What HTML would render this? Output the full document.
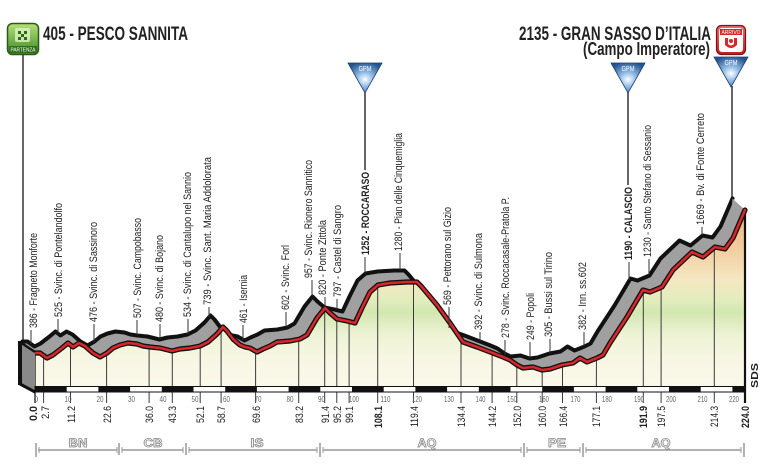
<!DOCTYPE html>
<html><head><meta charset="utf-8"><style>
html,body{margin:0;padding:0;background:#fff;}
svg{display:block;}
text{font-family:"Liberation Sans Narrow","Liberation Sans",sans-serif;}
</style></head><body>
<svg width="768" height="470" viewBox="0 0 768 470" xmlns="http://www.w3.org/2000/svg">
<defs>
<linearGradient id="fg" gradientUnits="userSpaceOnUse" x1="0" y1="205" x2="0" y2="387">
<stop offset="0" stop-color="#eab37c"/>
<stop offset="0.22" stop-color="#f1cb9c"/>
<stop offset="0.41" stop-color="#f5e7c2"/>
<stop offset="0.52" stop-color="#e2edbd"/>
<stop offset="0.59" stop-color="#d3e7b0"/>
<stop offset="0.72" stop-color="#eef3d6"/>
<stop offset="0.85" stop-color="#f8f6e3"/>
<stop offset="1" stop-color="#fbf8ea"/>
</linearGradient>
<radialGradient id="gpm" cx="0.5" cy="0.55" r="0.6">
<stop offset="0" stop-color="#ffffff"/>
<stop offset="0.35" stop-color="#9cc3ea"/>
<stop offset="1" stop-color="#22548f"/>
</radialGradient>
<linearGradient id="grn" x1="0" y1="0" x2="0" y2="1">
<stop offset="0" stop-color="#b5e07a"/>
<stop offset="1" stop-color="#3f8a22"/>
</linearGradient>
<linearGradient id="red" x1="0" y1="0" x2="0" y2="1">
<stop offset="0" stop-color="#f06a6a"/>
<stop offset="1" stop-color="#c41e1e"/>
</linearGradient>
</defs>

<!-- Titles -->
<text x="43" y="40" font-size="19" font-weight="bold" fill="#222" textLength="145" lengthAdjust="spacingAndGlyphs">405 - PESCO SANNITA</text>
<text x="519" y="40" font-size="19" font-weight="bold" fill="#222" textLength="192" lengthAdjust="spacingAndGlyphs">2135 - GRAN SASSO D’ITALIA</text>
<text x="583" y="55" font-size="18" font-weight="bold" fill="#222" textLength="127" lengthAdjust="spacingAndGlyphs">(Campo Imperatore)</text>

<!-- Partenza icon -->
<rect x="7.5" y="23.5" width="31" height="31" rx="5" fill="url(#grn)" stroke="#2d5a18" stroke-width="1.5"/>
<rect x="15" y="28" width="15" height="14" rx="2" fill="#dff3c4" opacity="0.8"/>
<rect x="18" y="31" width="3" height="3" fill="#2d6a18"/><rect x="24" y="31" width="3" height="3" fill="#2d6a18"/>
<rect x="21" y="34" width="3" height="3" fill="#2d6a18"/><rect x="18" y="37" width="3" height="3" fill="#2d6a18"/><rect x="24" y="37" width="3" height="3" fill="#2d6a18"/>
<rect x="9" y="46" width="28" height="7" fill="#2f6e1c"/>
<text x="23" y="51.5" font-size="5" fill="#fff" text-anchor="middle" textLength="25" lengthAdjust="spacingAndGlyphs">PARTENZA</text>

<!-- Arrivo icon -->
<rect x="716.5" y="25.5" width="29" height="29" rx="5" fill="url(#red)" stroke="#7a1515" stroke-width="1.2"/>
<rect x="719" y="28" width="24" height="24" rx="3" fill="#fff"/>
<rect x="720" y="29" width="22" height="6" fill="#d8262b"/>
<text x="731" y="34" font-size="5" fill="#fff" text-anchor="middle" textLength="19" lengthAdjust="spacingAndGlyphs">ARRIVO</text>
<path d="M725,38 L725,45 Q731,51 737,45 L737,38 L734,38 L734,44 Q731,47 728,44 L728,38 Z" fill="#d8262b"/>
<circle cx="731" cy="41" r="2" fill="#d8262b"/>

<!-- start line & GPM lines -->
<line x1="23" y1="55" x2="23" y2="342" stroke="#333" stroke-width="1.5"/>
<line x1="365" y1="92" x2="365" y2="170" stroke="#333" stroke-width="1.5"/>
<line x1="628" y1="92" x2="628" y2="185" stroke="#333" stroke-width="1.5"/>
<line x1="732" y1="86" x2="732" y2="198" stroke="#333" stroke-width="1.5"/>

<!-- GPM triangles -->
<g>
<path d="M348,63 L382,63 L365,93 Z" fill="url(#gpm)" stroke="#1a3f6e" stroke-width="0.8"/>
<text x="365" y="71" font-size="7" fill="#fff" text-anchor="middle" textLength="13" lengthAdjust="spacingAndGlyphs">GPM</text>
<path d="M611,63 L645,63 L628,93 Z" fill="url(#gpm)" stroke="#1a3f6e" stroke-width="0.8"/>
<text x="628" y="71" font-size="7" fill="#fff" text-anchor="middle" textLength="13" lengthAdjust="spacingAndGlyphs">GPM</text>
<path d="M714,57 L748,57 L731,87 Z" fill="url(#gpm)" stroke="#1a3f6e" stroke-width="0.8"/>
<text x="731" y="65" font-size="7" fill="#fff" text-anchor="middle" textLength="13" lengthAdjust="spacingAndGlyphs">GPM</text>
</g>

<!-- back band -->
<g transform="translate(-12.5,-11.5)">
<polygon fill="#a0a0a0" points="35,353 40,353 47,358 53,355 62,348 68,343 73,347 79,343 85,346 93,353 100,357 107,353 113,348 120,345 128,343 137,344 143,346 150,347 160,348 172,351 180,349 190,348 200,346 208,342 217,334 223,327 227,331 233,339 240,345 245,347 250,348 257,352 263,349 270,346 277,342 290,341 300,339 307,335 317,318 325,308 330,313 337,319 347,321 355,323 362,308 370,292 378,285 390,283 407,282 417,282 421,286 437,305 450,323 463,342 477,347 490,352 503,357 510,360 517,365 523,368 533,367 542,370 550,369 562,365 573,363 580,358 587,362 597,358 603,355 610,343 627,317 643,290 650,292 662,287 673,270 692,252 703,257 715,247 725,249 733,238 745,210 745,387 35,387"/>
<polyline fill="none" stroke="#111" stroke-width="4" stroke-linejoin="round" stroke-linecap="round" points="35,353 40,353 47,358 53,355 62,348 68,343 73,347 79,343 85,346 93,353 100,357 107,353 113,348 120,345 128,343 137,344 143,346 150,347 160,348 172,351 180,349 190,348 200,346 208,342 217,334 223,327 227,331 233,339 240,345 245,347 250,348 257,352 263,349 270,346 277,342 290,341 300,339 307,335 317,318 325,308 330,313 337,319 347,321 355,323 362,308 370,292 378,285 390,283 407,282 417,282 421,286 437,305 450,323 463,342 477,347 490,352 503,357 510,360 517,365 523,368 533,367 542,370 550,369 562,365 573,363 580,358 587,362 597,358 603,355 610,343 627,317 643,290 650,292 662,287 673,270 692,252 703,257 715,247 725,249 733,238 745,210"/>
</g>
<polygon points="732.5,198.5 745,210 733,238 730,230" fill="#a0a0a0"/>

<!-- front fill -->
<polygon fill="url(#fg)" points="35,353 40,353 47,358 53,355 62,348 68,343 73,347 79,343 85,346 93,353 100,357 107,353 113,348 120,345 128,343 137,344 143,346 150,347 160,348 172,351 180,349 190,348 200,346 208,342 217,334 223,327 227,331 233,339 240,345 245,347 250,348 257,352 263,349 270,346 277,342 290,341 300,339 307,335 317,318 325,308 330,313 337,319 347,321 355,323 362,308 370,292 378,285 390,283 407,282 417,282 421,286 437,305 450,323 463,342 477,347 490,352 503,357 510,360 517,365 523,368 533,367 542,370 550,369 562,365 573,363 580,358 587,362 597,358 603,355 610,343 627,317 643,290 650,292 662,287 673,270 692,252 703,257 715,247 725,249 733,238 745,210 745,387 35,387"/>

<!-- marker verticals -->
<g stroke="#3a3a3a" stroke-width="1">
<line x1="43.6" y1="357" x2="43.6" y2="403"/>
<line x1="70.5" y1="344" x2="70.5" y2="403"/>
<line x1="106.6" y1="354" x2="106.6" y2="403"/>
<line x1="149.1" y1="347" x2="149.1" y2="403"/>
<line x1="172.3" y1="351" x2="172.3" y2="403"/>
<line x1="200.2" y1="346" x2="200.2" y2="403"/>
<line x1="221.1" y1="329" x2="221.1" y2="403"/>
<line x1="255.6" y1="352" x2="255.6" y2="403"/>
<line x1="298.7" y1="339" x2="298.7" y2="403"/>
<line x1="324.7" y1="308" x2="324.7" y2="403"/>
<line x1="336.8" y1="319" x2="336.8" y2="403"/>
<line x1="349.1" y1="321" x2="349.1" y2="403"/>
<line x1="377.7" y1="285" x2="377.7" y2="403"/>
<line x1="413.5" y1="282" x2="413.5" y2="403"/>
<line x1="461" y1="340" x2="461" y2="403"/>
<line x1="492.1" y1="353" x2="492.1" y2="403"/>
<line x1="516.8" y1="365" x2="516.8" y2="403"/>
<line x1="542.2" y1="370" x2="542.2" y2="403"/>
<line x1="562.5" y1="365" x2="562.5" y2="403"/>
<line x1="596.4" y1="358" x2="596.4" y2="403"/>
<line x1="643.3" y1="290" x2="643.3" y2="403"/>
<line x1="661.1" y1="287" x2="661.1" y2="403"/>
<line x1="714.3" y1="247" x2="714.3" y2="403"/>
<line x1="35" y1="353" x2="35" y2="403" stroke="#111" stroke-width="1.3"/>
</g>
<line x1="745" y1="210" x2="745" y2="403" stroke="#111" stroke-width="2.2"/>

<!-- red line -->
<polyline fill="none" stroke="#111" stroke-width="5.2" stroke-linejoin="round" stroke-linecap="round" points="35,353 40,353 47,358 53,355 62,348 68,343 73,347 79,343 85,346 93,353 100,357 107,353 113,348 120,345 128,343 137,344 143,346 150,347 160,348 172,351 180,349 190,348 200,346 208,342 217,334 223,327 227,331 233,339 240,345 245,347 250,348 257,352 263,349 270,346 277,342 290,341 300,339 307,335 317,318 325,308 330,313 337,319 347,321 355,323 362,308 370,292 378,285 390,283 407,282 417,282 421,286 437,305 450,323 463,342 477,347 490,352 503,357 510,360 517,365 523,368 533,367 542,370 550,369 562,365 573,363 580,358 587,362 597,358 603,355 610,343 627,317 643,290 650,292 662,287 673,270 692,252 703,257 715,247 725,249 733,238 745,210"/>
<polyline fill="none" stroke="#d8262b" stroke-width="2.6" stroke-linejoin="round" stroke-linecap="round" points="35,353 40,353 47,358 53,355 62,348 68,343 73,347 79,343 85,346 93,353 100,357 107,353 113,348 120,345 128,343 137,344 143,346 150,347 160,348 172,351 180,349 190,348 200,346 208,342 217,334 223,327 227,331 233,339 240,345 245,347 250,348 257,352 263,349 270,346 277,342 290,341 300,339 307,335 317,318 325,308 330,313 337,319 347,321 355,323 362,308 370,292 378,285 390,283 407,282 417,282 421,286 437,305 450,323 463,342 477,347 490,352 503,357 510,360 517,365 523,368 533,367 542,370 550,369 562,365 573,363 580,358 587,362 597,358 603,355 610,343 627,317 643,290 650,292 662,287 673,270 692,252 703,257 715,247 725,249 733,238 745,210"/>

<!-- left block -->
<polygon points="20,342 35,352 35,392 20,384" fill="#8a8a8a"/>
<line x1="20" y1="341" x2="20" y2="385" stroke="#111" stroke-width="4"/>
<line x1="20" y1="384" x2="35" y2="392" stroke="#111" stroke-width="3"/>
<line x1="20" y1="342" x2="35" y2="352" stroke="#111" stroke-width="2.5"/>

<!-- bar -->
<rect x="35" y="386.5" width="710" height="5.5" fill="#fff" stroke="#111" stroke-width="1"/>
<g fill="#111">
<rect x="35" y="386.5" width="31.7" height="5.5"/>
<rect x="98.4" y="386.5" width="31.7" height="5.5"/>
<rect x="161.8" y="386.5" width="31.7" height="5.5"/>
<rect x="225.2" y="386.5" width="31.7" height="5.5"/>
<rect x="288.6" y="386.5" width="31.7" height="5.5"/>
<rect x="352" y="386.5" width="31.7" height="5.5"/>
<rect x="415.4" y="386.5" width="31.7" height="5.5"/>
<rect x="478.8" y="386.5" width="31.7" height="5.5"/>
<rect x="542.2" y="386.5" width="31.7" height="5.5"/>
<rect x="605.6" y="386.5" width="31.7" height="5.5"/>
<rect x="669" y="386.5" width="31.7" height="5.5"/>
<rect x="732.4" y="386.5" width="12.6" height="5.5"/>
</g>

<!-- decade labels -->
<g font-size="8" fill="#666" text-anchor="middle">
<text x="36" y="402">0</text>
<text x="68" y="402" textLength="7" lengthAdjust="spacingAndGlyphs">10</text>
<text x="100" y="402" textLength="7" lengthAdjust="spacingAndGlyphs">20</text>
<text x="131.5" y="402" textLength="7" lengthAdjust="spacingAndGlyphs">30</text>
<text x="163" y="402" textLength="7" lengthAdjust="spacingAndGlyphs">40</text>
<text x="195" y="402" textLength="7" lengthAdjust="spacingAndGlyphs">50</text>
<text x="226.5" y="402" textLength="7" lengthAdjust="spacingAndGlyphs">60</text>
<text x="258" y="402" textLength="7" lengthAdjust="spacingAndGlyphs">70</text>
<text x="290" y="402" textLength="7" lengthAdjust="spacingAndGlyphs">80</text>
<text x="321.5" y="402" textLength="7" lengthAdjust="spacingAndGlyphs">90</text>
<text x="354" y="402" textLength="10" lengthAdjust="spacingAndGlyphs">100</text>
<text x="385.5" y="402" textLength="10" lengthAdjust="spacingAndGlyphs">110</text>
<text x="417" y="402" textLength="10" lengthAdjust="spacingAndGlyphs">120</text>
<text x="449" y="402" textLength="10" lengthAdjust="spacingAndGlyphs">130</text>
<text x="480.5" y="402" textLength="10" lengthAdjust="spacingAndGlyphs">140</text>
<text x="512" y="402" textLength="10" lengthAdjust="spacingAndGlyphs">150</text>
<text x="544" y="402" textLength="10" lengthAdjust="spacingAndGlyphs">160</text>
<text x="575.5" y="402" textLength="10" lengthAdjust="spacingAndGlyphs">170</text>
<text x="607" y="402" textLength="10" lengthAdjust="spacingAndGlyphs">180</text>
<text x="639" y="402" textLength="10" lengthAdjust="spacingAndGlyphs">190</text>
<text x="671" y="402" textLength="10" lengthAdjust="spacingAndGlyphs">200</text>
<text x="702.5" y="402" textLength="10" lengthAdjust="spacingAndGlyphs">210</text>
<text x="734" y="402" textLength="10" lengthAdjust="spacingAndGlyphs">220</text>
</g>

<!-- km labels rotated -->
<g font-size="11" fill="#222">
<text transform="translate(37,421) rotate(-90)" font-weight="bold" textLength="15" lengthAdjust="spacingAndGlyphs">0.0</text>
<text transform="translate(49,419) rotate(-90)" textLength="13" lengthAdjust="spacingAndGlyphs">2.7</text>
<text transform="translate(75,423) rotate(-90)" textLength="17" lengthAdjust="spacingAndGlyphs">11.2</text>
<text transform="translate(111,423) rotate(-90)" textLength="17" lengthAdjust="spacingAndGlyphs">22.6</text>
<text transform="translate(153,423) rotate(-90)" textLength="17" lengthAdjust="spacingAndGlyphs">36.0</text>
<text transform="translate(176,423) rotate(-90)" textLength="17" lengthAdjust="spacingAndGlyphs">43.3</text>
<text transform="translate(204,423) rotate(-90)" textLength="17" lengthAdjust="spacingAndGlyphs">52.1</text>
<text transform="translate(225,423) rotate(-90)" textLength="17" lengthAdjust="spacingAndGlyphs">58.7</text>
<text transform="translate(260,423) rotate(-90)" textLength="17" lengthAdjust="spacingAndGlyphs">69.6</text>
<text transform="translate(303,423) rotate(-90)" textLength="17" lengthAdjust="spacingAndGlyphs">83.2</text>
<text transform="translate(329,423) rotate(-90)" textLength="17" lengthAdjust="spacingAndGlyphs">91.4</text>
<text transform="translate(341,423) rotate(-90)" textLength="17" lengthAdjust="spacingAndGlyphs">95.2</text>
<text transform="translate(353,423) rotate(-90)" textLength="17" lengthAdjust="spacingAndGlyphs">99.1</text>
<text transform="translate(382,428) rotate(-90)" font-weight="bold" textLength="22" lengthAdjust="spacingAndGlyphs">108.1</text>
<text transform="translate(418,427) rotate(-90)" textLength="21" lengthAdjust="spacingAndGlyphs">119.4</text>
<text transform="translate(465,427) rotate(-90)" textLength="21" lengthAdjust="spacingAndGlyphs">134.4</text>
<text transform="translate(496,427) rotate(-90)" textLength="21" lengthAdjust="spacingAndGlyphs">144.2</text>
<text transform="translate(521,427) rotate(-90)" textLength="21" lengthAdjust="spacingAndGlyphs">152.0</text>
<text transform="translate(546,427) rotate(-90)" textLength="21" lengthAdjust="spacingAndGlyphs">160.0</text>
<text transform="translate(567,427) rotate(-90)" textLength="21" lengthAdjust="spacingAndGlyphs">166.4</text>
<text transform="translate(600,427) rotate(-90)" textLength="21" lengthAdjust="spacingAndGlyphs">177.1</text>
<text transform="translate(647,428) rotate(-90)" font-weight="bold" textLength="22" lengthAdjust="spacingAndGlyphs">191.9</text>
<text transform="translate(665,427) rotate(-90)" textLength="21" lengthAdjust="spacingAndGlyphs">197.5</text>
<text transform="translate(718,427) rotate(-90)" textLength="21" lengthAdjust="spacingAndGlyphs">214.3</text>
<text transform="translate(749,428) rotate(-90)" font-weight="bold" textLength="22" lengthAdjust="spacingAndGlyphs">224.0</text>
</g>

<!-- SDS -->
<text transform="translate(758,388) rotate(-90)" font-size="10" font-weight="bold" fill="#222" textLength="25" lengthAdjust="spacingAndGlyphs">SDS</text>

<!-- place labels and leaders -->
<g stroke="#333" stroke-width="1">
<line x1="31" y1="330" x2="31" y2="344"/>
<line x1="58" y1="319" x2="58" y2="333"/>
<line x1="94" y1="324" x2="94" y2="342"/>
<line x1="137" y1="320" x2="137" y2="335"/>
<line x1="160" y1="324" x2="160" y2="339"/>
<line x1="188" y1="319" x2="188" y2="334"/>
<line x1="209" y1="307" x2="209" y2="317"/>
<line x1="243" y1="325" x2="243" y2="340"/>
<line x1="286" y1="312" x2="286" y2="327"/>
<line x1="312" y1="280" x2="312" y2="296"/>
<line x1="325" y1="297" x2="325" y2="306"/>
<line x1="337" y1="299" x2="337" y2="309"/>
<line x1="365" y1="257" x2="365" y2="273"/>
<line x1="400" y1="253" x2="400" y2="270"/>
<line x1="449" y1="307" x2="449" y2="328"/>
<line x1="480" y1="332" x2="480" y2="341"/>
<line x1="505" y1="340" x2="505" y2="355"/>
<line x1="530" y1="342" x2="530" y2="358"/>
<line x1="550" y1="339" x2="550" y2="353"/>
<line x1="584" y1="332" x2="584" y2="346"/>
<line x1="629" y1="262" x2="629" y2="280"/>
<line x1="649" y1="259" x2="649" y2="275"/>
<line x1="702" y1="227" x2="702" y2="235"/>
</g>
<g font-size="11" fill="#222">
<text transform="translate(37,328) rotate(-90)" textLength="95" lengthAdjust="spacingAndGlyphs">386 - Fragneto Monforte</text>
<text transform="translate(62,317) rotate(-90)" textLength="114" lengthAdjust="spacingAndGlyphs">525 - Svinc. di Pontelandolfo</text>
<text transform="translate(97,322) rotate(-90)" textLength="100" lengthAdjust="spacingAndGlyphs">476 - Svinc. di Sassinoro</text>
<text transform="translate(141,318) rotate(-90)" textLength="100" lengthAdjust="spacingAndGlyphs">507 - Svinc. Campobasso</text>
<text transform="translate(163,322) rotate(-90)" textLength="87" lengthAdjust="spacingAndGlyphs">480 - Svinc. di Bojano</text>
<text transform="translate(191,317) rotate(-90)" textLength="145" lengthAdjust="spacingAndGlyphs">534 - Svinc. di Cantalupo nel Sannio</text>
<text transform="translate(211,305) rotate(-90)" textLength="148" lengthAdjust="spacingAndGlyphs">739 - Svinc. Sant. Maria Addolorata</text>
<text transform="translate(247,323) rotate(-90)" textLength="48" lengthAdjust="spacingAndGlyphs">461 - Isernia</text>
<text transform="translate(289,310) rotate(-90)" textLength="65" lengthAdjust="spacingAndGlyphs">602 - Svinc. Forl</text>
<text transform="translate(312,278) rotate(-90)" textLength="118" lengthAdjust="spacingAndGlyphs">957 - Svinc. Rionero Sannitico</text>
<text transform="translate(326,295) rotate(-90)" textLength="75" lengthAdjust="spacingAndGlyphs">820 - Ponte Zittola</text>
<text transform="translate(341,297) rotate(-90)" textLength="92" lengthAdjust="spacingAndGlyphs">797 - Castel di Sangro</text>
<text transform="translate(369,255) rotate(-90)" font-weight="bold" textLength="83" lengthAdjust="spacingAndGlyphs">1252 - ROCCARASO</text>
<text transform="translate(402,251) rotate(-90)" textLength="118" lengthAdjust="spacingAndGlyphs">1280 - Pian delle Cinquemiglia</text>
<text transform="translate(451,305) rotate(-90)" textLength="98" lengthAdjust="spacingAndGlyphs">569 - Pettorano sul Gizio</text>
<text transform="translate(482,330) rotate(-90)" textLength="97" lengthAdjust="spacingAndGlyphs">392 - Svinc. di Sulmona</text>
<text transform="translate(509,338) rotate(-90)" textLength="141" lengthAdjust="spacingAndGlyphs">278 - Svinc. Roccacasale-Pratola P.</text>
<text transform="translate(534,340) rotate(-90)" textLength="47" lengthAdjust="spacingAndGlyphs">249 - Popoli</text>
<text transform="translate(552,337) rotate(-90)" textLength="85" lengthAdjust="spacingAndGlyphs">305 - Bussi sul Tirino</text>
<text transform="translate(586,330) rotate(-90)" textLength="68" lengthAdjust="spacingAndGlyphs">382 - Inn. ss.602</text>
<text transform="translate(632,260) rotate(-90)" font-weight="bold" textLength="73" lengthAdjust="spacingAndGlyphs">1190 - CALASCIO</text>
<text transform="translate(651,257) rotate(-90)" textLength="132" lengthAdjust="spacingAndGlyphs">1230 - Santo Stefano di Sessanio</text>
<text transform="translate(704,225) rotate(-90)" textLength="112" lengthAdjust="spacingAndGlyphs">1669 - Bv. di Fonte Cerreto</text>
</g>

<!-- provinces -->
<g stroke="#999" stroke-width="1.5">
<line x1="36" y1="443" x2="36" y2="457"/>
<line x1="119" y1="443" x2="119" y2="455"/>
<line x1="186" y1="443" x2="186" y2="455"/>
<line x1="320" y1="443" x2="320" y2="457"/>
<line x1="524" y1="443" x2="524" y2="457"/>
<line x1="583" y1="443" x2="583" y2="457"/>
<line x1="744" y1="443" x2="744" y2="457"/>
<line x1="38" y1="450" x2="117" y2="450"/>
<line x1="122" y1="450" x2="183" y2="450"/>
<line x1="189" y1="450" x2="317" y2="450"/>
<line x1="323" y1="450" x2="521" y2="450"/>
<line x1="527" y1="450" x2="580" y2="450"/>
<line x1="586" y1="450" x2="741" y2="450"/>
</g>
<g stroke="#999" stroke-width="1">
<line x1="39" y1="447" x2="39" y2="453"/><line x1="117" y1="447" x2="117" y2="453"/>
<line x1="122" y1="447" x2="122" y2="453"/><line x1="183" y1="447" x2="183" y2="453"/>
<line x1="189" y1="447" x2="189" y2="453"/><line x1="317" y1="447" x2="317" y2="453"/>
<line x1="323" y1="447" x2="323" y2="453"/><line x1="521" y1="447" x2="521" y2="453"/>
<line x1="527" y1="447" x2="527" y2="453"/><line x1="580" y1="447" x2="580" y2="453"/>
<line x1="586" y1="447" x2="586" y2="453"/><line x1="741" y1="447" x2="741" y2="453"/>
</g>
<g font-size="12" font-weight="bold" fill="#fff" stroke="#888" stroke-width="0.8" text-anchor="middle">
<text x="78" y="447" textLength="19" lengthAdjust="spacingAndGlyphs">BN</text>
<text x="153" y="447" textLength="19" lengthAdjust="spacingAndGlyphs">CB</text>
<text x="257" y="447" textLength="13" lengthAdjust="spacingAndGlyphs">IS</text>
<text x="427" y="447" textLength="19" lengthAdjust="spacingAndGlyphs">AQ</text>
<text x="557" y="447" textLength="18" lengthAdjust="spacingAndGlyphs">PE</text>
<text x="661" y="447" textLength="19" lengthAdjust="spacingAndGlyphs">AQ</text>
</g>
</svg>
</body></html>
